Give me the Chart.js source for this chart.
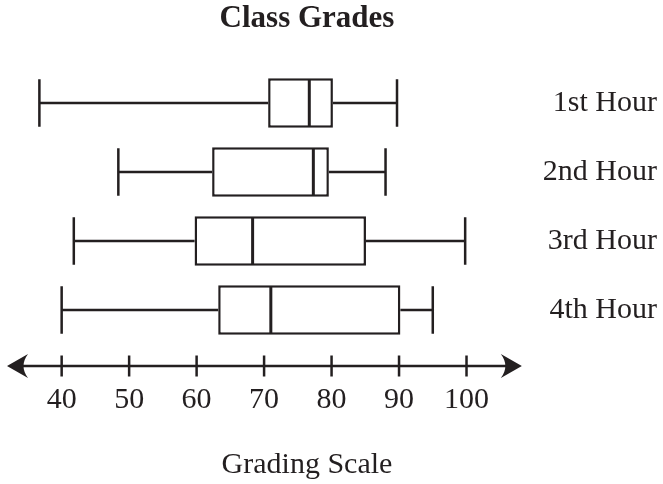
<!DOCTYPE html>
<html lang="en">
<head>
  <meta charset="UTF-8">
  <title>Class Grades</title>
  <script src="https://cdn.jsdelivr.net/npm/chart.js"></script>
  <style>
    body { margin: 0; background: #fff; }
    #wrap { width: 663px; height: 484px; position: relative; }
  </style>
</head>
<body>
  <div id="wrap"><canvas id="gradesChart"></canvas></div>

  <script>
    // Box plot values (grades)
    var hours = ['1st Hour', '2nd Hour', '3rd Hour', '4th Hour'];
    var lowGrades = [36.7, 48.4, 41.8, 40];
    var q1Grades = [70.6, 62.3, 59.7, 63.2];
    var medianGrades = [76.7, 77.3, 68.3, 71];
    var q3Grades = [80.2, 79.6, 85.1, 90.2];
    var highGrades = [89.7, 88, 99.8, 95];
    var gradeTicks = [40, 50, 60, 70, 80, 90, 100];

    var chartTitle = 'Class Grades';
    var scaleTitle = 'Grading Scale';

    var INK = '#231f20';
    var SERIF = "'Liberation Serif', 'Times New Roman', serif";
    var TITLE_CENTER_X = 307;

    // whiskers, caps and medians, placed from the x scale and the bar elements
    var whiskerPlugin = {
      id: 'whiskers',
      afterDatasetsDraw: function(chart) {
        var ctx = chart.ctx;
        var x = chart.scales.x;
        var meta = chart.getDatasetMeta(0);
        ctx.save();
        ctx.strokeStyle = INK;
        meta.data.forEach(function(bar, i) {
          var p = bar.getProps(['y', 'height'], true);
          var half = p.height / 2 - 1;
          var xLow = x.getPixelForValue(lowGrades[i]);
          var xQ1 = x.getPixelForValue(q1Grades[i]);
          var xMed = x.getPixelForValue(medianGrades[i]);
          var xQ3 = x.getPixelForValue(q3Grades[i]);
          var xHigh = x.getPixelForValue(highGrades[i]);
          ctx.lineWidth = 2.5;
          ctx.beginPath();
          ctx.moveTo(xLow, p.y); ctx.lineTo(xQ1, p.y);
          ctx.moveTo(xQ3, p.y); ctx.lineTo(xHigh, p.y);
          ctx.moveTo(xLow, p.y - half); ctx.lineTo(xLow, p.y + half);
          ctx.moveTo(xHigh, p.y - half); ctx.lineTo(xHigh, p.y + half);
          ctx.stroke();
          ctx.lineWidth = 3;
          ctx.beginPath();
          ctx.moveTo(xMed, p.y - half); ctx.lineTo(xMed, p.y + half);
          ctx.stroke();
        });
        ctx.restore();
      }
    };

    // number line with arrow heads and tick marks
    var numberLinePlugin = {
      id: 'numberLine',
      afterDraw: function(chart) {
        var ctx = chart.ctx;
        var area = chart.chartArea;
        var x = chart.scales.x;
        var yLine = area.bottom + 21.5;
        var arrow = 21;
        ctx.save();
        ctx.strokeStyle = INK;
        ctx.fillStyle = INK;
        ctx.lineWidth = 2.5;
        ctx.beginPath();
        ctx.moveTo(area.left + 10, yLine);
        ctx.lineTo(area.right - 10, yLine);
        ctx.stroke();
        x.ticks.forEach(function(t) {
          var px = x.getPixelForValue(t.value);
          ctx.beginPath();
          ctx.moveTo(px, yLine - 10.5);
          ctx.lineTo(px, yLine + 10.5);
          ctx.stroke();
        });
        [[area.left, 1], [area.right, -1]].forEach(function(a) {
          var tip = a[0], d = a[1];
          ctx.beginPath();
          ctx.moveTo(tip, yLine);
          ctx.lineTo(tip + d * arrow, yLine - 12);
          ctx.quadraticCurveTo(tip + d * 12, yLine, tip + d * arrow, yLine + 12);
          ctx.closePath();
          ctx.fill();
        });
        ctx.restore();
      }
    };

    // centre both titles on the same column as the original
    var titleCenterPlugin = {
      id: 'titleCenter',
      afterLayout: function(chart) {
        chart.boxes.forEach(function(box) {
          if (box.options && (box.options.text === chartTitle || box.options.text === scaleTitle)) {
            box.left = 0;
            box.right = TITLE_CENTER_X * 2;
            box.width = box.right - box.left;
          }
        });
      }
    };

    var ctx = document.getElementById('gradesChart').getContext('2d');
    new Chart(ctx, {
      type: 'bar',
      data: {
        labels: hours,
        datasets: [{
          data: hours.map(function(h, i) { return [q1Grades[i], q3Grades[i]]; }),
          backgroundColor: '#ffffff',
          borderColor: INK,
          borderWidth: 2.5,
          borderSkipped: false,
          barPercentage: 0.72,
          categoryPercentage: 1
        }]
      },
      options: {
        indexAxis: 'y',
        responsive: true,
        maintainAspectRatio: false,
        animation: false,
        layout: { padding: { left: 7, right: 6, top: 0, bottom: 0 } },
        scales: {
          x: {
            type: 'linear',
            min: 31.9,
            max: 108.2,
            // hidden grid; tickLength only spaces the labels below the number line
            grid: { display: false, tickLength: 37.5 },
            border: { display: false },
            afterBuildTicks: function(scale) {
              scale.ticks = gradeTicks.map(function(v) { return { value: v }; });
            },
            ticks: {
              padding: 0,
              color: INK,
              font: { family: SERIF, size: 30, lineHeight: 1.2 }
            }
          },
          y: {
            type: 'category',
            position: 'right',
            grid: { display: false, tickLength: 21 },
            border: { display: false },
            ticks: {
              padding: 0,
              crossAlign: 'far',
              color: INK,
              font: { family: SERIF, size: 30, lineHeight: 1.2 }
            }
          }
        },
        plugins: {
          legend: { display: false },
          tooltip: { enabled: false },
          title: {
            display: true,
            text: chartTitle,
            color: INK,
            font: { family: SERIF, size: 31, weight: 'bold', lineHeight: 1.2 },
            padding: { top: 0, bottom: 31.3 }
          },
          subtitle: {
            display: true,
            position: 'bottom',
            text: scaleTitle,
            color: INK,
            font: { family: SERIF, size: 30, weight: 'normal', lineHeight: 1.2 },
            padding: { top: 29, bottom: 1 }
          }
        }
      },
      plugins: [whiskerPlugin, numberLinePlugin, titleCenterPlugin]
    });
  </script>
</body>
</html>
